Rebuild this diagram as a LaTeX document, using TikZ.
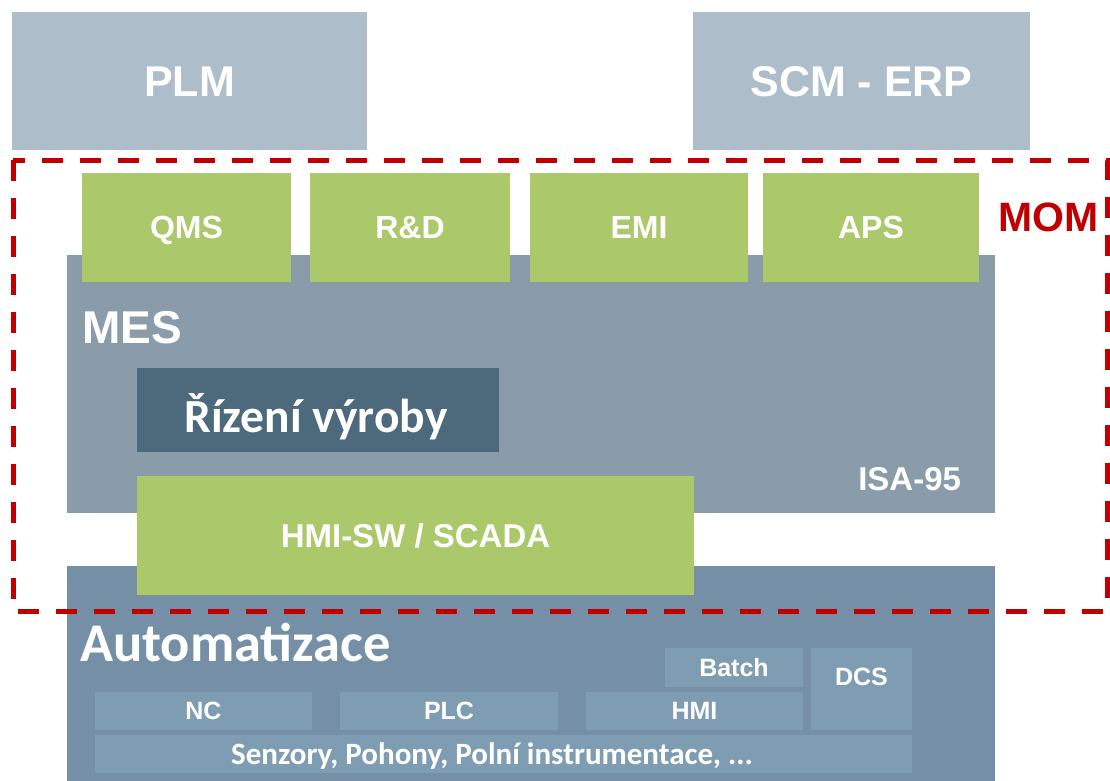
\documentclass[tikz,border=0pt]{standalone}
\usepackage{fontspec}
\setmainfont{Liberation Sans}
\newfontfamily\calib{Carlito}
\definecolor{plmc}{HTML}{ADBDC9}
\definecolor{greenc}{HTML}{ABC86A}
\definecolor{mesc}{HTML}{8A9BA9}
\definecolor{rizc}{HTML}{4D697C}
\definecolor{autoc}{HTML}{7590A6}
\definecolor{innerc}{HTML}{7F9DB2}
\definecolor{momred}{HTML}{C00000}
\tikzset{
  box/.style={draw=none, inner sep=0pt, outer sep=0pt, text=white, font=\bfseries, text depth=0pt},
  lbl/.style={inner sep=0pt, outer sep=0pt, text=white, font=\bfseries},
  ar/.style={font=\fontsize{#1}{#1}\selectfont\bfseries, text height=0.716*#1 pt},
  ca/.style={font=\calib\fontsize{#1}{#1}\selectfont\bfseries, text height=0.644*#1 pt},
  momline/.style={draw=momred, line width=5pt, dash pattern=on 21pt off 17pt}
}
\begin{document}
\begin{tikzpicture}[x=1pt,y=-1pt]
\useasboundingbox (0,0) rectangle (1110,781);
% top systems
\node[box, fill=plmc, minimum width=355pt, minimum height=138pt, ar=43] (plm) at (189.5,81) {PLM};
\node[box, fill=plmc, minimum width=337pt, minimum height=138pt, ar=43] (scm) at (861.5,81) {SCM - ERP};
% MES layer
\node[box, fill=mesc, minimum width=928pt, minimum height=258pt] (mes) at (531,384) {};
\node[lbl, anchor=base west, font=\fontsize{46}{52}\selectfont\bfseries] (meslbl) at (82,343) {MES};
\node[lbl, anchor=base east, font=\fontsize{33}{40}\selectfont\bfseries] (isa) at (961,490) {ISA-95};
% MOM modules
\node[box, fill=greenc, minimum width=209pt, minimum height=109pt, ar=32] (qms) at (186.5,227.5) {QMS};
\node[box, fill=greenc, minimum width=200pt, minimum height=109pt, ar=32] (rd) at (410,227.5) {R\&D};
\node[box, fill=greenc, minimum width=218pt, minimum height=109pt, ar=32] (emi) at (639,227.5) {EMI};
\node[box, fill=greenc, minimum width=216pt, minimum height=109pt, ar=32] (aps) at (871,227.5) {APS};
% Rizeni vyroby
\node[box, fill=rizc, minimum width=362pt, minimum height=84pt] (riz) at (318,410) {};
\node[lbl, anchor=base, font=\calib\fontsize{47.5}{52}\selectfont\bfseries] (rizlbl) at (316,432) {Řízení výroby};
% Automatizace layer
\node[box, fill=autoc, minimum width=928pt, minimum height=215pt] (auto) at (531,673.5) {};
\node[lbl, anchor=base west, font=\calib\fontsize{54.5}{60}\selectfont\bfseries] (autolbl) at (80,661) {Automatizace};
% HMI-SW / SCADA
\node[box, fill=greenc, minimum width=557pt, minimum height=119pt, ar=33] (scada) at (415.5,535.5) {HMI-SW / SCADA};
% inner automation boxes
\node[box, fill=innerc, minimum width=217pt, minimum height=38pt, ar=25] (nc) at (203.5,711) {NC};
\node[box, fill=innerc, minimum width=218pt, minimum height=38pt, ar=25] (plc) at (449,711) {PLC};
\node[box, fill=innerc, minimum width=217pt, minimum height=38pt, ar=25] (hmi) at (694.5,711) {HMI};
\node[box, fill=innerc, minimum width=138pt, minimum height=39pt, ar=25] (batch) at (734,667.5) {Batch};
\node[box, fill=innerc, minimum width=101pt, minimum height=82pt] (dcs) at (861.5,689) {};
\node[lbl, anchor=base, font=\fontsize{25}{30}\selectfont\bfseries] (dcslbl) at (861.5,685) {DCS};
\node[box, fill=innerc, minimum width=817pt, minimum height=38pt] (senz) at (503.5,754) {};
\node[lbl, anchor=base, font=\calib\fontsize{31}{34}\selectfont\bfseries] (senzlbl) at (492,764) {Senzory, Pohony, Polní instrumentace, ...};
% MOM boundary
\draw[momline] (13,160) rectangle (1107,611);
\node[lbl, text=momred, anchor=base west, font=\fontsize{41}{48}\selectfont\bfseries] (mom) at (998,231) {MOM};
\end{tikzpicture}
\end{document}
